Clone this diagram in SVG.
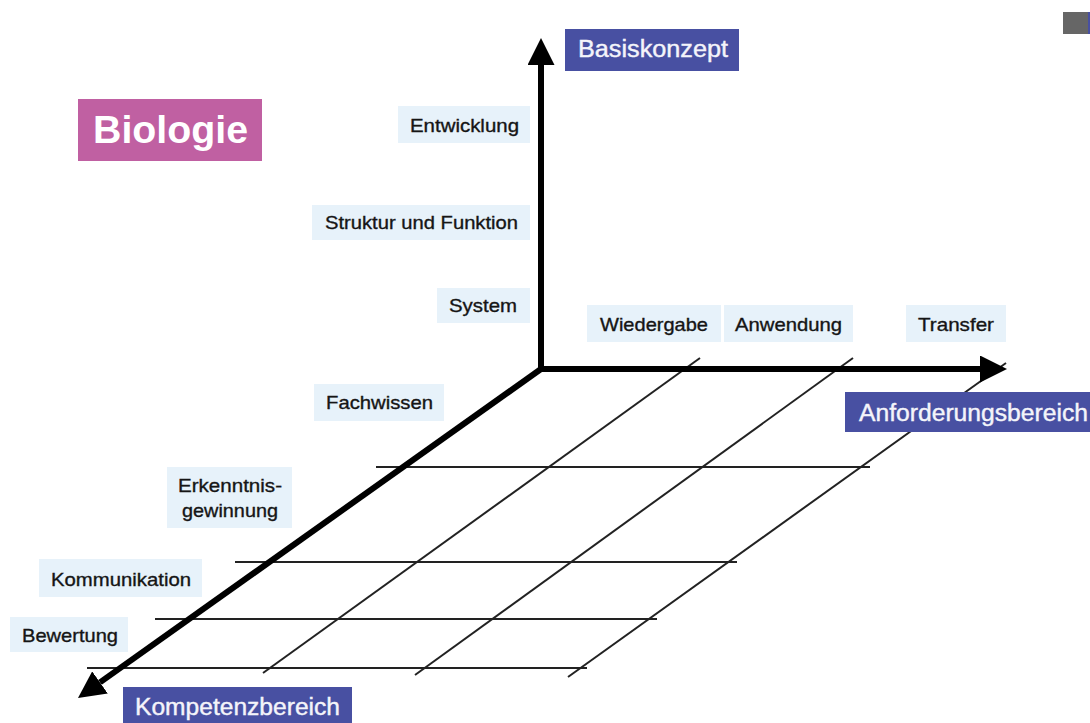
<svg xmlns="http://www.w3.org/2000/svg" width="1090" height="723" viewBox="0 0 1090 723">
<style>
.lb{fill:#e7f2fa}
.lt{font-family:"Liberation Sans",Arial,sans-serif;font-size:19px;fill:#151515;stroke:#151515;stroke-width:0.35}
.bb{fill:#4850a2}
.bt{font-family:"Liberation Sans",Arial,sans-serif;font-size:23px;fill:#f4f4fa;stroke:#f4f4fa;stroke-width:0.4}
.grid{stroke:#222;stroke-width:2;fill:none}
.axis{stroke:#000;stroke-width:6;fill:none}
</style>
<defs>
<marker id="ah" viewBox="0 0 27 27" refX="0" refY="13.5" markerWidth="27" markerHeight="27" markerUnits="userSpaceOnUse" orient="auto">
<path d="M0,0 L27,13.5 L0,27 z" fill="#000"/>
</marker>
</defs>
<rect x="1063" y="12" width="25" height="22" fill="#666"/>
<rect x="1088" y="12" width="2" height="22" fill="#4850a2"/>
<g id="connectors">
<g id="grid">
<line class="grid" x1="376" y1="467" x2="870" y2="467"/>
<line class="grid" x1="235" y1="562" x2="737" y2="562"/>
<line class="grid" x1="155" y1="619" x2="657" y2="619"/>
<line class="grid" x1="87" y1="668" x2="587" y2="668"/>
<line class="grid" x1="263" y1="673" x2="700" y2="358"/>
<line class="grid" x1="415" y1="675" x2="853" y2="358"/>
<line class="grid" x1="568" y1="677" x2="1006" y2="363"/>
</g>
<line class="axis" x1="541" y1="372" x2="541" y2="65" marker-end="url(#ah)"/>
<line class="axis" x1="538" y1="369" x2="980" y2="369" marker-end="url(#ah)"/>
<line class="axis" x1="541" y1="369" x2="100" y2="682.4" marker-end="url(#ah)"/>
</g>
<g id="biologie">
<rect x="78" y="99" width="184" height="62" fill="#c060a2"/>
<text x="93" y="143" font-family="'Liberation Sans',Arial,sans-serif" font-size="38" font-weight="bold" fill="#fff" textLength="155" lengthAdjust="spacingAndGlyphs">Biologie</text>
</g>
<g id="basiskonzept">
<rect class="bb" x="565" y="29" width="174" height="42"/>
<text class="bt" x="578" y="57" textLength="150" lengthAdjust="spacingAndGlyphs">Basiskonzept</text>
</g>
<g id="anforderungsbereich">
<rect class="bb" x="845" y="392" width="250" height="40"/>
<text class="bt" x="859" y="421" textLength="229" lengthAdjust="spacingAndGlyphs">Anforderungsbereich</text>
</g>
<g id="kompetenzbereich">
<rect class="bb" x="123" y="687" width="229" height="40"/>
<text class="bt" x="135" y="715" textLength="205" lengthAdjust="spacingAndGlyphs">Kompetenzbereich</text>
</g>
<g id="entwicklung">
<rect class="lb" x="398" y="106" width="132" height="37"/>
<text class="lt" x="410" y="132" textLength="109" lengthAdjust="spacingAndGlyphs">Entwicklung</text>
</g>
<g id="struktur">
<rect class="lb" x="312" y="205" width="218" height="35"/>
<text class="lt" x="325" y="229" textLength="193" lengthAdjust="spacingAndGlyphs">Struktur und Funktion</text>
</g>
<g id="system">
<rect class="lb" x="437" y="288" width="93" height="35"/>
<text class="lt" x="449" y="312" textLength="68" lengthAdjust="spacingAndGlyphs">System</text>
</g>
<g id="wiedergabe">
<rect class="lb" x="587" y="305" width="134" height="37"/>
<text class="lt" x="600" y="331" textLength="108" lengthAdjust="spacingAndGlyphs">Wiedergabe</text>
</g>
<g id="anwendung">
<rect class="lb" x="724" y="305" width="129" height="37"/>
<text class="lt" x="735" y="331" textLength="107" lengthAdjust="spacingAndGlyphs">Anwendung</text>
</g>
<g id="transfer">
<rect class="lb" x="906" y="305" width="100" height="37"/>
<text class="lt" x="918" y="331" textLength="76" lengthAdjust="spacingAndGlyphs">Transfer</text>
</g>
<g id="fachwissen">
<rect class="lb" x="314" y="384" width="130" height="37"/>
<text class="lt" x="326" y="409" textLength="107" lengthAdjust="spacingAndGlyphs">Fachwissen</text>
</g>
<g id="erkenntnis">
<rect class="lb" x="167" y="467" width="125" height="61"/>
<text class="lt" x="178" y="492" textLength="104" lengthAdjust="spacingAndGlyphs">Erkenntnis-</text>
<text class="lt" x="182" y="517" textLength="96" lengthAdjust="spacingAndGlyphs">gewinnung</text>
</g>
<g id="kommunikation">
<rect class="lb" x="39" y="559" width="163" height="38"/>
<text class="lt" x="51" y="586" textLength="140" lengthAdjust="spacingAndGlyphs">Kommunikation</text>
</g>
<g id="bewertung">
<rect class="lb" x="10" y="617" width="118" height="35"/>
<text class="lt" x="22" y="642" textLength="96" lengthAdjust="spacingAndGlyphs">Bewertung</text>
</g>
</svg>
